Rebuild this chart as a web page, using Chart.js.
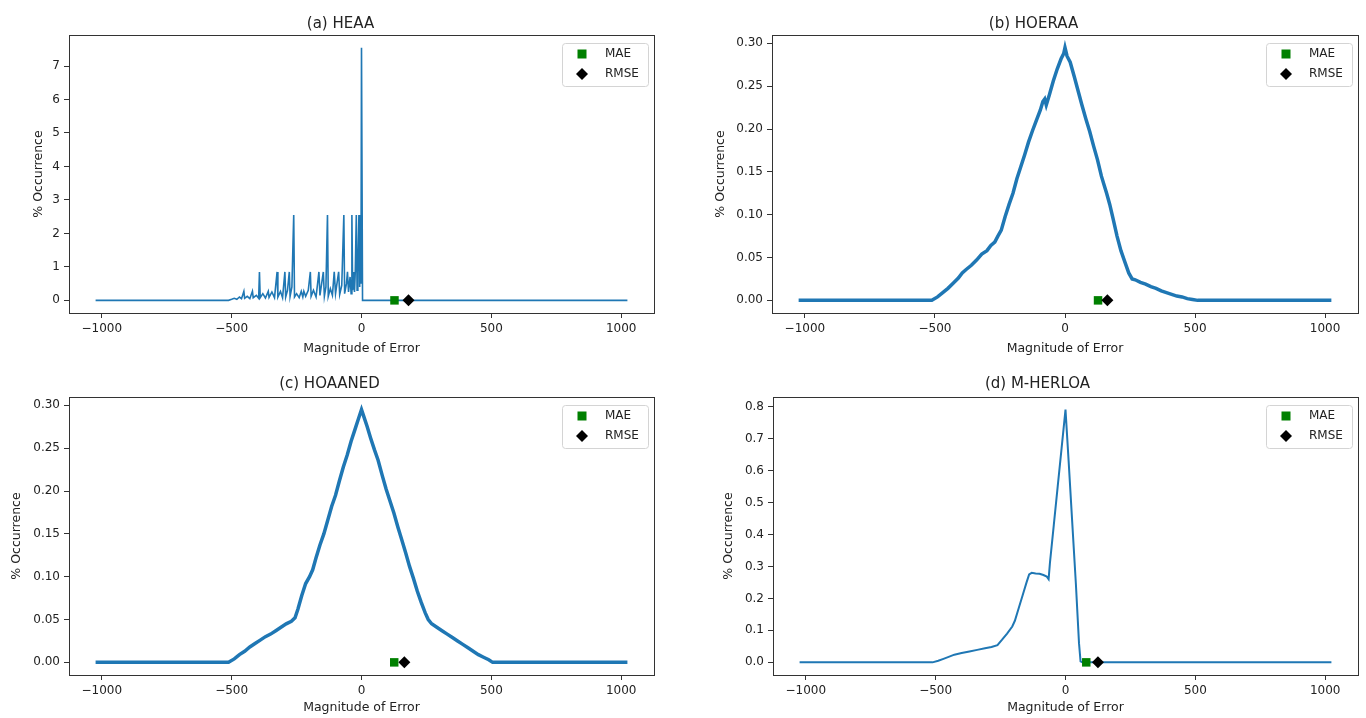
<!DOCTYPE html>
<html>
<head>
<meta charset="utf-8">
<script src="https://cdn.jsdelivr.net/npm/chart.js@4.4.0/dist/chart.umd.min.js"></script>
<style>
  html, body { margin: 0; padding: 0; background: #fff; }
  #fig { position: relative; width: 1366px; height: 718px; }
  .panel { position: absolute; width: 683px; height: 359px; }
</style>
</head>
<body>
<div id="fig">
  <div class="panel" style="left:0;top:0"><canvas id="cA"></canvas></div>
  <div class="panel" style="left:683px;top:0"><canvas id="cB"></canvas></div>
  <div class="panel" style="left:0;top:359px"><canvas id="cC"></canvas></div>
  <div class="panel" style="left:683px;top:359px"><canvas id="cD"></canvas></div>
</div>
<script>
// tick labels
const xTicks = [-1000, -500, 0, 500, 1000]
const yTicksA = [0, 1, 2, 3, 4, 5, 6, 7]
const yTicksBC = [0, 0.05, 0.10, 0.15, 0.20, 0.25, 0.30]
const yTicksD = [0, 0.1, 0.2, 0.3, 0.4, 0.5, 0.6, 0.7, 0.8]

const panelTitles = ["(a) HEAA", "(b) HOERAA", "(c) HOAANED", "(d) M-HERLOA"]
const legendLabels = ["MAE", "RMSE"]

// MAE / RMSE marker positions (magnitude of error) per panel
const maeValues = [127, 127, 126, 80]
const rmseValues = [181, 163, 165, 125]

// % occurrence vs magnitude of error as [error, %]
const heaaPoints = [
  [-1024, 0], [-512, 0], [-500, 0.03], [-490, 0.06], [-480, 0.03], [-470, 0.1], [-462, 0.05],
  [-453, 0.27], [-450, 0.06], [-440, 0.12], [-430, 0.05], [-420, 0.27], [-417, 0.08], [-405, 0.15],
  [-396, 0.06], [-393, 0.85], [-390, 0.08], [-380, 0.2], [-370, 0.07], [-359, 0.27], [-356, 0.09],
  [-345, 0.25], [-335, 0.08], [-325, 0.85], [-322, 0.1], [-312, 0.27], [-304, 0.08], [-295, 0.85],
  [-292, 0.1], [-285, 0.3], [-278, 0.85], [-275, 0.12], [-268, 0.4], [-261, 2.55], [-258, 0.1],
  [-250, 0.2], [-240, 0.08], [-232, 0.27], [-226, 0.1], [-222, 0.27], [-215, 0.12], [-205, 0.3],
  [-197, 0.85], [-194, 0.12], [-185, 0.3], [-175, 0.1], [-164, 0.85], [-160, 0.15], [-147, 0.85],
  [-143, 0.12], [-137, 0.4], [-131, 2.55], [-128, 0.12], [-120, 0.35], [-112, 0.15], [-105, 0.85],
  [-100, 0.2], [-88, 0.85], [-84, 0.18], [-76, 0.45], [-68, 2.55], [-65, 0.2], [-58, 0.5],
  [-54, 0.85], [-50, 0.25], [-44, 0.7], [-40, 0.2], [-37, 2.55], [-34, 0.3], [-30, 0.85],
  [-27, 0.25], [-24, 0.85], [-20, 2.55], [-17, 0.3], [-14, 0.85], [-10, 2.55], [-7, 0.4],
  [-4, 2.55], [-2, 0.5], [0, 7.55], [4, 0], [1024, 0]
]

const hoeraaPoints = [
  [-1024, 0], [-512, 0], [-490, 0.004], [-470, 0.009], [-450, 0.014], [-430, 0.02], [-410, 0.026],
  [-395, 0.032], [-380, 0.036], [-360, 0.041], [-340, 0.047], [-320, 0.054], [-300, 0.058],
  [-285, 0.064], [-270, 0.068], [-258, 0.075], [-245, 0.082], [-230, 0.098], [-215, 0.112],
  [-200, 0.125], [-185, 0.142], [-170, 0.156], [-155, 0.17], [-140, 0.185], [-125, 0.198],
  [-110, 0.21], [-95, 0.222], [-85, 0.232], [-78, 0.235], [-72, 0.228], [-60, 0.24], [-45, 0.256],
  [-30, 0.27], [-15, 0.282], [-5, 0.288], [0, 0.295], [8, 0.285], [20, 0.278], [35, 0.262],
  [50, 0.245], [65, 0.228], [80, 0.212], [95, 0.197], [110, 0.18], [125, 0.164], [140, 0.145],
  [150, 0.135], [160, 0.125], [172, 0.112], [185, 0.095], [200, 0.075], [215, 0.058], [230, 0.045],
  [245, 0.032], [258, 0.025], [270, 0.024], [290, 0.021], [310, 0.019], [330, 0.016], [350, 0.014],
  [370, 0.011], [390, 0.009], [410, 0.007], [430, 0.005], [450, 0.004], [470, 0.002], [490, 0.001],
  [510, 0], [1024, 0]
]

const hoaanedPoints = [
  [-1024, 0], [-512, 0], [-490, 0.004], [-470, 0.009], [-450, 0.013], [-430, 0.018], [-410, 0.022],
  [-390, 0.026], [-370, 0.03], [-350, 0.033], [-330, 0.037], [-310, 0.041], [-290, 0.045],
  [-270, 0.048], [-256, 0.052], [-245, 0.062], [-230, 0.078], [-215, 0.092], [-200, 0.1],
  [-188, 0.108], [-175, 0.122], [-160, 0.137], [-145, 0.15], [-130, 0.166], [-115, 0.182],
  [-100, 0.195], [-85, 0.212], [-70, 0.228], [-55, 0.242], [-40, 0.258], [-25, 0.272], [-12, 0.284],
  [0, 0.295], [10, 0.286], [22, 0.275], [35, 0.262], [50, 0.248], [64, 0.236], [80, 0.218],
  [95, 0.202], [110, 0.188], [125, 0.174], [140, 0.158], [155, 0.143], [170, 0.128], [185, 0.112],
  [200, 0.098], [215, 0.083], [230, 0.07], [245, 0.058], [257, 0.05], [270, 0.045], [290, 0.041],
  [310, 0.037], [330, 0.033], [350, 0.029], [370, 0.025], [390, 0.021], [410, 0.017], [430, 0.013],
  [450, 0.009], [470, 0.006], [490, 0.003], [505, 0], [1024, 0]
]

const mherloaPoints = [
  [-1024, 0], [-512, 0], [-490, 0.005], [-470, 0.011], [-450, 0.017], [-428, 0.024], [-400, 0.029],
  [-370, 0.034], [-340, 0.039], [-310, 0.044], [-285, 0.048], [-262, 0.054], [-245, 0.07],
  [-225, 0.09], [-205, 0.112], [-195, 0.13], [-180, 0.17], [-165, 0.21], [-150, 0.25], [-140, 0.275],
  [-130, 0.28], [-115, 0.278], [-100, 0.277], [-85, 0.273], [-72, 0.268], [-65, 0.26], [-60, 0.31],
  [-45, 0.43], [-30, 0.55], [-15, 0.67], [0, 0.79], [12, 0.63], [25, 0.45], [40, 0.245],
  [52, 0.06], [58, 0.003], [65, 0], [1024, 0]
]

const FONT = "'DejaVu Sans', sans-serif"
const TEXT = "#222"
const AXIS = "#333"

// full box round the plot, like matplotlib spines
const framePlugin = {
  id: "frame",
  afterDraw(chart) {
    const a = chart.chartArea, ctx = chart.ctx
    ctx.save()
    ctx.strokeStyle = AXIS
    ctx.lineWidth = 1
    ctx.strokeRect(Math.round(a.left) + 0.5, Math.round(a.top) + 0.5,
      Math.round(a.right - a.left), Math.round(a.bottom - a.top))
    ctx.restore()
  }
}

// legend box in upper right of the plot
const boxLegend = {
  id: "boxLegend",
  afterDraw(chart) {
    const a = chart.chartArea, ctx = chart.ctx
    const w = 86, h = 43
    const x0 = a.right - 6 - w, y0 = a.top + 8
    ctx.save()
    ctx.beginPath()
    ctx.roundRect(x0 + 0.5, y0 + 0.5, w, h, 3)
    ctx.fillStyle = "rgba(255,255,255,0.85)"
    ctx.fill()
    ctx.strokeStyle = "#d4d4d4"
    ctx.stroke()
    // square
    ctx.fillStyle = "#008000"
    ctx.fillRect(x0 + 20 - 4.5, y0 + 11 - 4.5, 9, 9)
    // diamond
    ctx.fillStyle = "#000"
    ctx.beginPath()
    const cx = x0 + 20, cy = y0 + 31
    ctx.moveTo(cx, cy - 6); ctx.lineTo(cx + 6, cy); ctx.lineTo(cx, cy + 6); ctx.lineTo(cx - 6, cy)
    ctx.closePath(); ctx.fill()
    ctx.fillStyle = TEXT
    ctx.font = "12px " + FONT
    ctx.textBaseline = "middle"
    ctx.fillText(legendLabels[0], x0 + 43, y0 + 11)
    ctx.fillText(legendLabels[1], x0 + 43, y0 + 31)
    ctx.restore()
  }
}

function makePanel(id, idx, points, yTicks, decimals, lw, lay) {
  const ys = points.map(p => p[1])
  const ymax = Math.max(...ys)
  const xs = points.map(p => p[0])
  const xspan = Math.max(...xs) - Math.min(...xs)
  new Chart(document.getElementById(id), {
    type: "line",
    data: {
      datasets: [
        {
          data: points.map(p => ({ x: p[0], y: p[1] })),
          borderColor: "#1f77b4",
          borderWidth: lw,
          pointRadius: 0,
          tension: 0,
          order: 2
        },
        {
          data: [{ x: maeValues[idx], y: 0 }],
          showLine: false,
          pointStyle: "rect",
          pointRadius: 6,
          backgroundColor: "#008000",
          borderColor: "#008000",
          borderWidth: 0,
          order: 1
        },
        {
          data: [{ x: rmseValues[idx], y: 0 }],
          showLine: false,
          pointStyle: "rectRot",
          pointRadius: 6,
          backgroundColor: "#000",
          borderColor: "#000",
          borderWidth: 0,
          order: 0
        }
      ]
    },
    options: {
      responsive: true,
      maintainAspectRatio: false,
      animation: false,
      events: [],
      layout: { padding: { left: lay.padLeft, right: lay.padRight, top: 0, bottom: 0 } },
      plugins: {
        legend: { display: false },
        tooltip: { enabled: false },
        title: {
          display: true,
          text: panelTitles[idx],
          color: TEXT,
          font: { family: FONT, size: 15, weight: "normal", lineHeight: 1.2 },
          padding: { top: lay.titleTop, bottom: lay.titleBottom }
        }
      },
      scales: {
        x: {
          type: "linear",
          min: Math.min(...xs) - 0.05 * xspan,
          max: Math.max(...xs) + 0.05 * xspan,
          afterBuildTicks: s => { s.ticks = xTicks.map(v => ({ value: v })) },
          afterFit: s => { s.height = lay.xHeight },
          ticks: {
            color: TEXT, padding: 4,
            font: { family: FONT, size: 12 },
            callback: v => (v < 0 ? "\u2212" + Math.abs(v) : String(v))
          },
          grid: { display: true, drawOnChartArea: false, drawTicks: true, tickLength: 5, color: AXIS },
          border: { display: true, color: AXIS },
          title: {
            display: true, text: "Magnitude of Error", color: TEXT,
            font: { family: FONT, size: 12.5, lineHeight: 1.2 },
            padding: { top: 2, bottom: 3 }
          }
        },
        y: {
          type: "linear",
          min: -0.05 * ymax,
          max: ymax * 1.05,
          afterBuildTicks: s => { s.ticks = yTicks.map(v => ({ value: v })) },
          afterFit: s => { s.width = lay.yWidth },
          ticks: {
            color: TEXT, padding: 4,
            font: { family: FONT, size: 12 },
            callback: v => v.toFixed(decimals)
          },
          grid: { display: true, drawOnChartArea: false, drawTicks: true, tickLength: 5, color: AXIS },
          border: { display: true, color: AXIS },
          title: {
            display: true, text: "% Occurrence", color: TEXT,
            font: { family: FONT, size: 12.5, lineHeight: 1.2 },
            padding: { top: 4, bottom: 4 }
          }
        }
      }
    },
    plugins: [framePlugin, boxLegend]
  })
}

makePanel("cA", 0, heaaPoints, yTicksA, 0, 1.6,
  { padLeft: 27, yWidth: 42, padRight: 29, titleTop: 15, titleBottom: 2, xHeight: 46 })
makePanel("cB", 1, hoeraaPoints, yTicksBC, 2, 3.5,
  { padLeft: 26, yWidth: 63, padRight: 8, titleTop: 15, titleBottom: 2, xHeight: 46 })
makePanel("cC", 2, hoaanedPoints, yTicksBC, 2, 3.5,
  { padLeft: 5, yWidth: 64, padRight: 29, titleTop: 16, titleBottom: 4, xHeight: 43 })
makePanel("cD", 3, mherloaPoints, yTicksD, 1, 2,
  { padLeft: 34, yWidth: 56, padRight: 8, titleTop: 16, titleBottom: 4, xHeight: 43 })
</script>
</body>
</html>
